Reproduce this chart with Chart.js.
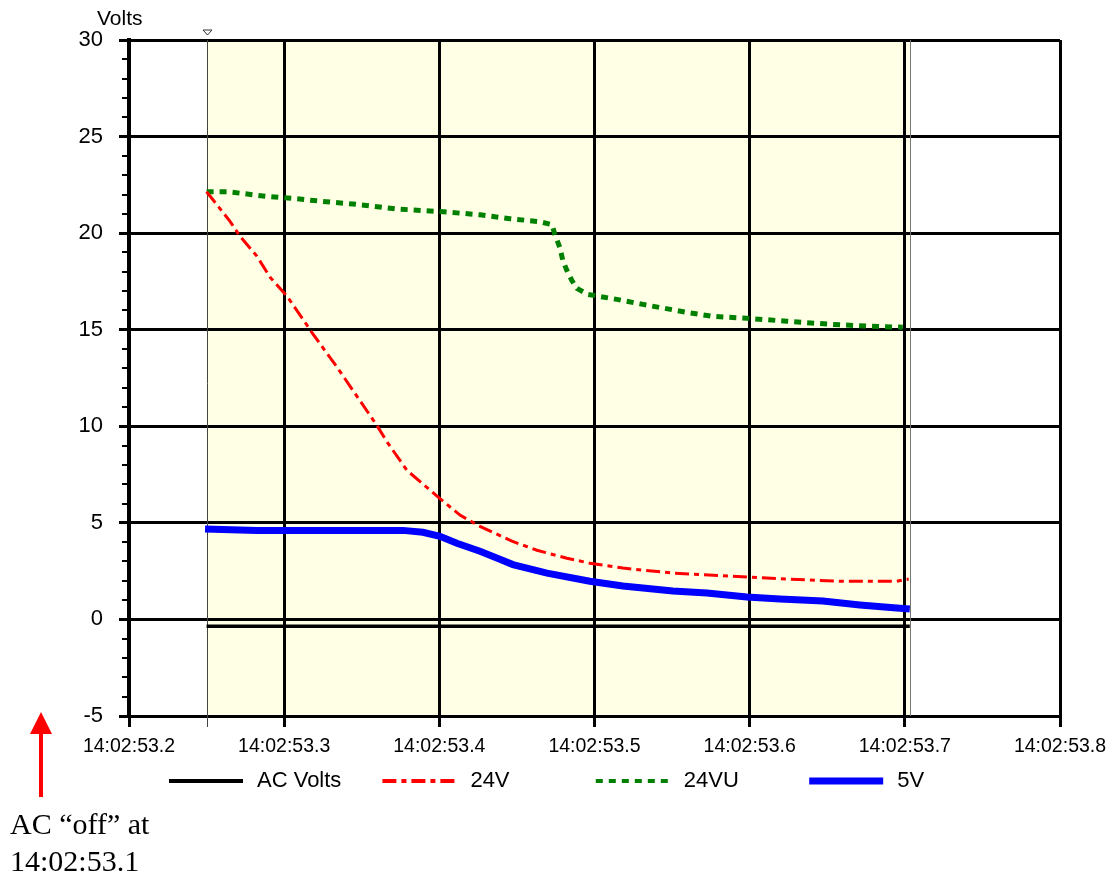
<!DOCTYPE html>
<html lang="en">

<head>
    <meta charset="UTF-8" />
    <script src="https://cdn.jsdelivr.net/npm/chart.js"></script>
    <title>Volts</title>
    <style>
        body { margin: 0; background: #fff; }
        .wrap { position: relative; width: 1119px; height: 877px; }
        #VoltChart { position: absolute; left: 0; top: 0; }
        .note {
            position: absolute; left: 10px; top: 805px;
            font-family: 'Liberation Serif', 'Times New Roman', serif;
            font-size: 30px; line-height: 37px; color: #000;
        }
        .arrow { position: absolute; left: 0; top: 700px; }
    </style>
</head>

<body>
    <div class="wrap">
        <canvas id="VoltChart" width="1119" height="877"></canvas>
        <svg class="arrow" width="80" height="110">
            <line x1="41" y1="33" x2="41" y2="97" stroke="#f00" stroke-width="4" />
            <polygon points="30,34 52,34 41,12" fill="#f00" />
        </svg>
        <div class="note">AC “off” at<br>14:02:53.1</div>
    </div>

<script>
    // time = seconds after 14:02:53
    const xTicks = [0.2, 0.3, 0.4, 0.5, 0.6, 0.7, 0.8];
    const seriesNames = ['AC Volts', '24V', '24VU', '5V'];

    const acTime = [0.25, 0.7032];
    const acVolts = [-0.35, -0.35];

    const t24V = [0.25, 0.2541, 0.2651, 0.2715, 0.2825, 0.2909, 0.3018, 0.3121, 0.3186, 0.3340,
        0.3488, 0.3598, 0.3662, 0.3791, 0.4004, 0.4133, 0.4262, 0.4468, 0.4629, 0.4822,
        0.4970, 0.5183, 0.5505, 0.5892, 0.6240, 0.6581, 0.6948, 0.7025];
    const v24V = [22.14, 21.73, 20.61, 19.84, 18.80, 17.72, 16.74, 15.54, 14.77, 13.07,
        11.33, 10.04, 9.20, 7.72, 6.26, 5.40, 4.82, 4.05, 3.58, 3.17,
        2.91, 2.66, 2.40, 2.24, 2.09, 1.98, 1.98, 2.09];

    const t24VU = [0.25, 0.2638, 0.2747, 0.2889, 0.3082, 0.3250, 0.3443, 0.3727, 0.4004, 0.4262,
        0.4455, 0.4648, 0.4726, 0.4745, 0.4777, 0.4796, 0.4822, 0.4854, 0.4887, 0.4957,
        0.5144, 0.5312, 0.5595, 0.5763, 0.5982, 0.6240, 0.6517, 0.6774, 0.6987];
    const v24VU = [22.14, 22.14, 22.04, 21.90, 21.78, 21.64, 21.51, 21.25, 21.12, 20.95,
        20.75, 20.59, 20.44, 19.92, 19.25, 18.58, 18.07, 17.55, 17.14, 16.83,
        16.57, 16.31, 15.90, 15.69, 15.59, 15.44, 15.28, 15.18, 15.13];

    const t5V = [0.249, 0.2825, 0.3765, 0.3894, 0.4004, 0.4113, 0.4262, 0.4390, 0.4474, 0.4694,
        0.4970, 0.5183, 0.5505, 0.5724, 0.5982, 0.6195, 0.6472, 0.6710, 0.6948, 0.7032];
    const v5V = [4.68, 4.61, 4.61, 4.51, 4.30, 3.94, 3.53, 3.12, 2.84, 2.40,
        1.98, 1.73, 1.47, 1.37, 1.16, 1.06, 0.95, 0.75, 0.59, 0.54];

    const shadeFrom = 0.25;
    const shadeTo = 0.7032;

    function pairs(ts, vs) {
        return ts.map((t, i) => ({ x: t, y: vs[i] }));
    }

    const sansFont = "'Liberation Sans', Arial, sans-serif";

    const chartExtras = {
        id: 'chartExtras',
        beforeDraw(chart) {
            const c = chart.ctx;
            const a = chart.chartArea;
            const x = chart.scales.x;
            c.save();
            c.fillStyle = '#FFFFE5';
            c.fillRect(x.getPixelForValue(shadeFrom), a.top, x.getPixelForValue(shadeTo) - x.getPixelForValue(shadeFrom), a.bottom - a.top);
            c.restore();
        },
        beforeDatasetsDraw(chart) {
            const c = chart.ctx;
            const a = chart.chartArea;
            const x = chart.scales.x;
            const x1 = Math.round(x.getPixelForValue(shadeFrom)) + 0.5;
            const x2 = Math.round(x.getPixelForValue(shadeTo)) + 0.5;
            c.save();
            c.lineWidth = 1;
            c.strokeStyle = '#444';
            c.beginPath();
            c.moveTo(x1, a.top); c.lineTo(x1, a.bottom + 11);
            c.stroke();
            c.strokeStyle = '#777';
            c.beginPath();
            c.moveTo(x2, a.top); c.lineTo(x2, a.bottom);
            c.stroke();
            // small marker at the top
            c.strokeStyle = '#333';
            c.beginPath();
            c.moveTo(x1 - 4.5, a.top - 10);
            c.lineTo(x1 + 4.5, a.top - 10);
            c.lineTo(x1, a.top - 5);
            c.closePath();
            c.stroke();
            c.restore();
        },
        afterDraw(chart) {
            const c = chart.ctx;
            const a = chart.chartArea;
            const y = chart.scales.y;
            c.save();
            // minor ticks on the y axis
            c.strokeStyle = '#000';
            c.lineWidth = 2;
            for (let v = -5; v <= 30; v++) {
                if (v % 5 === 0) continue;
                const py = Math.round(y.getPixelForValue(v));
                c.beginPath();
                c.moveTo(a.left - 7, py);
                c.lineTo(a.left, py);
                c.stroke();
            }
            // axis title
            c.fillStyle = '#000';
            c.font = '21px ' + sansFont;
            c.textBaseline = 'alphabetic';
            c.textAlign = 'left';
            c.fillText('Volts', 97, 25);

            // legend
            const legendY = 781;
            c.font = '22px ' + sansFont;
            c.textBaseline = 'middle';
            chart.data.datasets.forEach((ds, i) => {
                const left = 169 + i * 213.4;
                c.strokeStyle = ds.borderColor;
                c.lineWidth = ds.legendWidth;
                c.setLineDash(ds.borderDash || []);
                c.lineCap = 'butt';
                c.beginPath();
                c.moveTo(left, legendY);
                c.lineTo(left + 74, legendY);
                c.stroke();
                c.setLineDash([]);
                c.fillText(ds.label, left + 88, legendY);
            });
            c.restore();
        }
    };

    const ctx = document.getElementById('VoltChart').getContext('2d');

    const voltChart = new Chart(ctx, {
        type: 'line',
        data: {
            datasets: [
                {
                    label: seriesNames[0],
                    data: pairs(acTime, acVolts),
                    borderColor: '#000000',
                    borderWidth: 3.5,
                    legendWidth: 4
                },
                {
                    label: seriesNames[1],
                    data: pairs(t24V, v24V),
                    borderColor: '#FF0000',
                    borderWidth: 3,
                    borderDash: [14, 5, 5, 5],
                    legendWidth: 4
                },
                {
                    label: seriesNames[2],
                    data: pairs(t24VU, v24VU),
                    borderColor: '#008000',
                    borderWidth: 5,
                    borderDash: [7, 6],
                    legendWidth: 4
                },
                {
                    label: seriesNames[3],
                    data: pairs(t5V, v5V),
                    borderColor: '#0000FF',
                    borderWidth: 7,
                    legendWidth: 7
                }
            ]
        },
        options: {
            responsive: false,
            animation: false,
            devicePixelRatio: 1,
            elements: {
                point: { radius: 0 },
                line: { tension: 0, borderCapStyle: 'butt' }
            },
            layout: {
                padding: { top: 40, right: 59, left: 0, bottom: 0 }
            },
            scales: {
                x: {
                    type: 'linear',
                    min: xTicks[0],
                    max: xTicks[xTicks.length - 1],
                    afterBuildTicks: (scale) => {
                        scale.ticks = xTicks.map(v => ({ value: v }));
                    },
                    afterFit: (scale) => { scale.height = 161; },
                    ticks: {
                        autoSkip: false,
                        maxRotation: 0,
                        padding: 8,
                        color: '#000',
                        font: { family: sansFont, size: 19.5 },
                        callback: (v) => '14:02:53.' + Math.round(v * 10)
                    },
                    grid: {
                        color: '#000',
                        lineWidth: 3,
                        tickLength: 11
                    },
                    border: { color: '#000', width: 3 }
                },
                y: {
                    min: -5,
                    max: 30,
                    afterFit: (scale) => { scale.width = 129; },
                    ticks: {
                        stepSize: 5,
                        padding: 16,
                        color: '#000',
                        font: { family: sansFont, size: 22 }
                    },
                    grid: {
                        color: '#000',
                        lineWidth: 3,
                        tickLength: 10
                    },
                    border: { color: '#000', width: 4 }
                }
            },
            plugins: {
                legend: { display: false },
                tooltip: { enabled: false }
            }
        },
        plugins: [chartExtras]
    });
</script>
</body>

</html>
